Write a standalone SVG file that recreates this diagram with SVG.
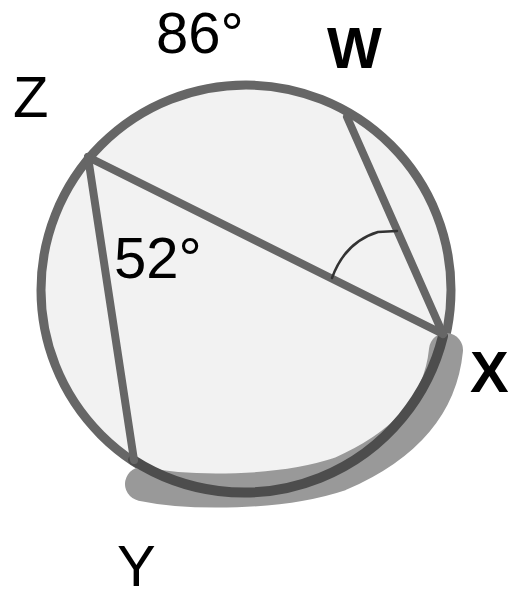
<svg xmlns="http://www.w3.org/2000/svg" width="510" height="600" viewBox="0 0 510 600">
<style>
.chord{stroke:#666;stroke-width:8;stroke-linecap:round;fill:none}
.lbl{font-family:"Liberation Sans",Arial,sans-serif;font-size:58px;fill:#000}
.b{font-weight:bold}
</style>
<rect width="510" height="600" fill="#fff"/>
<g id="circle">
<circle cx="246" cy="290" r="205" fill="#f2f2f2" stroke="#666" stroke-width="9"/>
</g>
<g id="highlight">
<path d="M 142 484 C 190 494, 280 494, 340 474 C 400 448, 440 410, 446 350" fill="none" stroke="#999" stroke-width="34" stroke-linecap="round" stroke-linejoin="round"/>
<path d="M 133 460 A 205 205 0 0 0 443 336" fill="none" stroke="#4d4d4d" stroke-width="10" stroke-linecap="round"/>
</g>
<g id="connectors">
<line class="chord" x1="88" y1="157" x2="443" y2="334"/>
<line class="chord" x1="88" y1="157" x2="134" y2="460"/>
<line class="chord" x1="347" y1="117" x2="443" y2="334"/>
<path d="M 332 278 Q 345 242 378 232 L 397 231" fill="none" stroke="#333" stroke-width="2.5" stroke-linecap="round"/>
</g>
<g id="labels">
<text class="lbl" x="156" y="53" font-size="56">86°</text>
<text class="lbl b" x="327" y="68">W</text>
<text class="lbl" x="13" y="117">Z</text>
<text class="lbl" x="114" y="278">52°</text>
<text class="lbl b" x="470" y="392">X</text>
<text class="lbl" x="117" y="586">Y</text>
</g>
</svg>
